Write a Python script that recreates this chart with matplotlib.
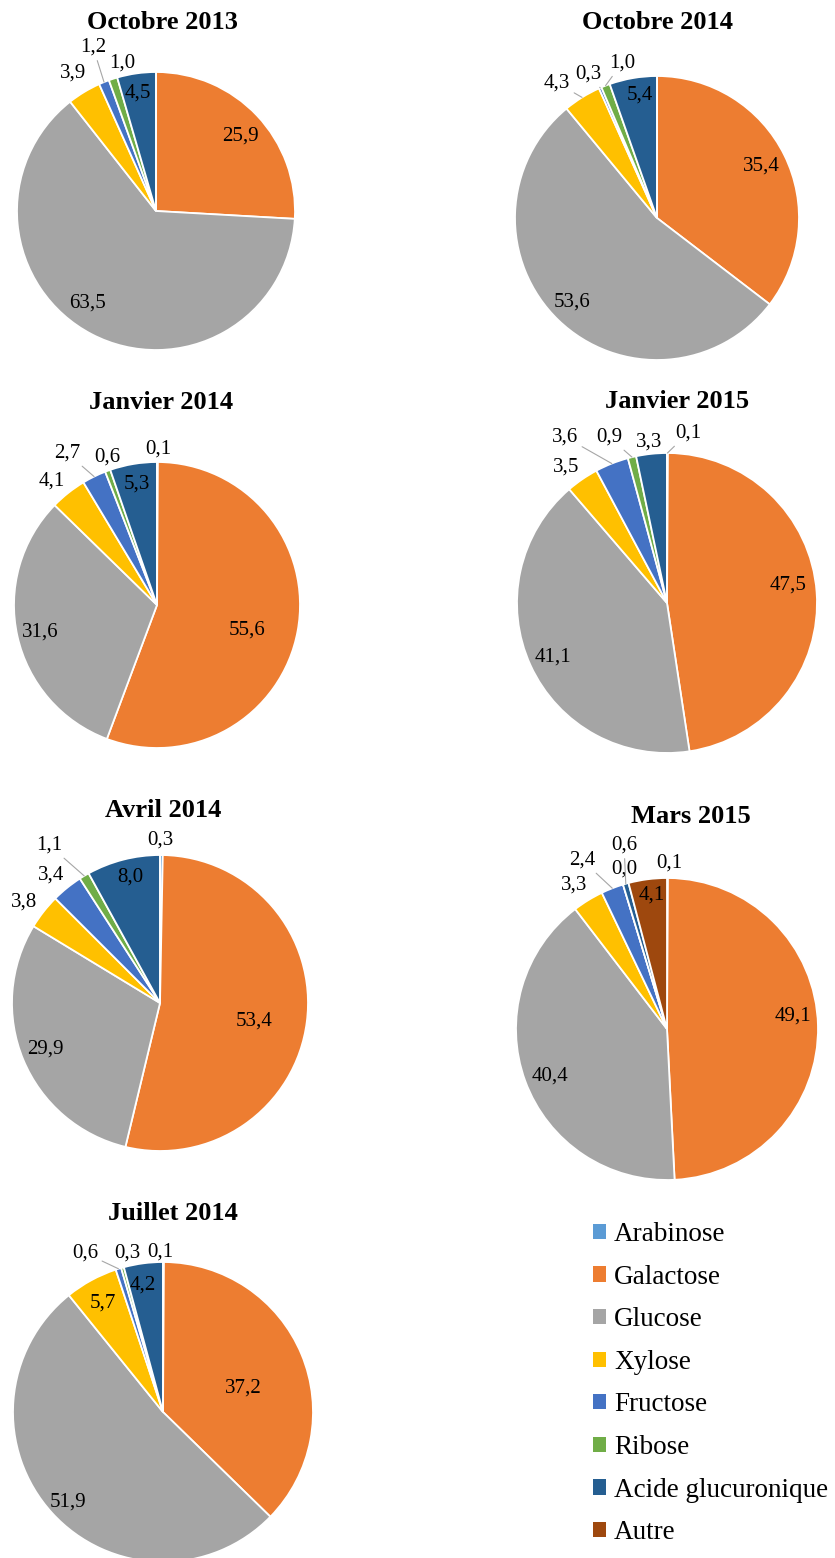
import matplotlib.pyplot as plt
import numpy as np
from matplotlib.patches import Patch

W, H = 835, 1558

plt.rcParams['font.family'] = ['Liberation Serif', 'DejaVu Serif']

sugars = ["Arabinose", "Galactose", "Glucose", "Xylose", "Fructose",
          "Ribose", "Acide glucuronique", "Autre"]
colors = ["#5B9BD5", "#ED7D31", "#A5A5A5", "#FFC000", "#4472C4",
          "#70AD47", "#255E91", "#9E480E"]

# sugar composition (%) per sampling date, same order as `sugars`
oct_2013 = [0.0, 25.9, 63.5, 3.9, 1.2, 1.0, 4.5, 0.0]
oct_2014 = [0.0, 35.4, 53.6, 4.3, 0.3, 1.0, 5.4, 0.0]
jan_2014 = [0.1, 55.6, 31.6, 4.1, 2.7, 0.6, 5.3, 0.0]
jan_2015 = [0.1, 47.5, 41.1, 3.5, 3.6, 0.9, 3.3, 0.0]
avr_2014 = [0.3, 53.4, 29.9, 3.8, 3.4, 1.1, 8.0, 0.0]
mar_2015 = [0.1, 49.1, 40.4, 3.3, 2.4, 0.0, 0.6, 4.1]
jul_2014 = [0.1, 37.2, 51.9, 5.7, 0.6, 0.3, 4.2, 0.0]

# layout: title, values, pie centre (px), radius (px), title position,
# label positions (None = no label), indices of labels with a leader line
charts = [
    ("Octobre 2013", oct_2013, (156, 211), 139, (162, 22),
     [None, (240, 136), (88, 303), (73, 73), (93, 47), (122, 63), (138, 93), None],
     [4]),
    ("Octobre 2014", oct_2014, (657, 218), 142, (657, 22),
     [None, (761, 166), (572, 302), (557, 83), (588, 74), (622, 63), (640, 95), None],
     [3, 4, 5]),
    ("Janvier 2014", jan_2014, (157, 605), 143, (161, 402),
     [(158, 449), (247, 630), (40, 632), (52, 481), (67, 453), (107, 457), (137, 484), None],
     [4]),
    ("Janvier 2015", jan_2015, (667, 603), 150, (677, 401),
     [(688, 433), (788, 585), (553, 657), (566, 467), (565, 437), (609, 437), (649, 442), None],
     [0, 4, 5]),
    ("Avril 2014", avr_2014, (160, 1003), 148, (163, 810),
     [(160, 840), (254, 1021), (45, 1049), (24, 902), (51, 875), (49, 845), (130, 877), None],
     [5]),
    ("Mars 2015", mar_2015, (667, 1029), 151, (691, 816),
     [(669, 863), (793, 1016), (550, 1076), (574, 885), (582, 860), (624, 869), (624, 845), (652, 895)],
     [4, 6]),
    ("Juillet 2014", jul_2014, (163, 1412), 150, (173, 1213),
     [(160, 1252), (243, 1388), (68, 1502), (103, 1303), (85, 1253), (127, 1253), (143, 1285), None],
     [4]),
]

fig = plt.figure(figsize=(W / 100, H / 100), dpi=100)
ax = fig.add_axes([0, 0, 1, 1])

for title, values, (cx, cy), r, (tx, ty), label_pos, leaders in charts:
    centre = (cx, H - cy)
    wedges, _ = ax.pie(values, colors=colors, startangle=90, counterclock=False,
                       center=centre, radius=r,
                       wedgeprops=dict(edgecolor="white", linewidth=1.3))
    ax.text(tx, H - ty, title, ha="center", va="center",
            fontsize=19, fontweight="bold")
    for i, pos in enumerate(label_pos):
        if pos is None:
            continue
        txt = f"{values[i]:.1f}".replace(".", ",")
        xy_text = (pos[0], H - pos[1])
        if i in leaders:
            w = wedges[i]
            mid = np.deg2rad((w.theta1 + w.theta2) / 2)
            edge = (centre[0] + r * np.cos(mid), centre[1] + r * np.sin(mid))
            ax.annotate(txt, xy=edge, xytext=xy_text, ha="center", va="center",
                        fontsize=15,
                        arrowprops=dict(arrowstyle="-", color="#A6A6A6", lw=0.8,
                                        shrinkA=1, shrinkB=0))
        else:
            ax.text(*xy_text, txt, ha="center", va="center", fontsize=15)

ax.set_xlim(0, W)
ax.set_ylim(0, H)
ax.set_aspect("equal")
ax.axis("off")

handles = [Patch(facecolor=c, edgecolor="none") for c in colors]
fig.legend(handles, sugars, loc="upper left",
           bbox_to_anchor=(593 / W, 1 - 1222 / H), frameon=False,
           fontsize=19.5, handlelength=0.48, handleheight=0.48,
           handletextpad=0.3, labelspacing=0.65, borderpad=0, borderaxespad=0)

fig.savefig("out.png", dpi=100)
